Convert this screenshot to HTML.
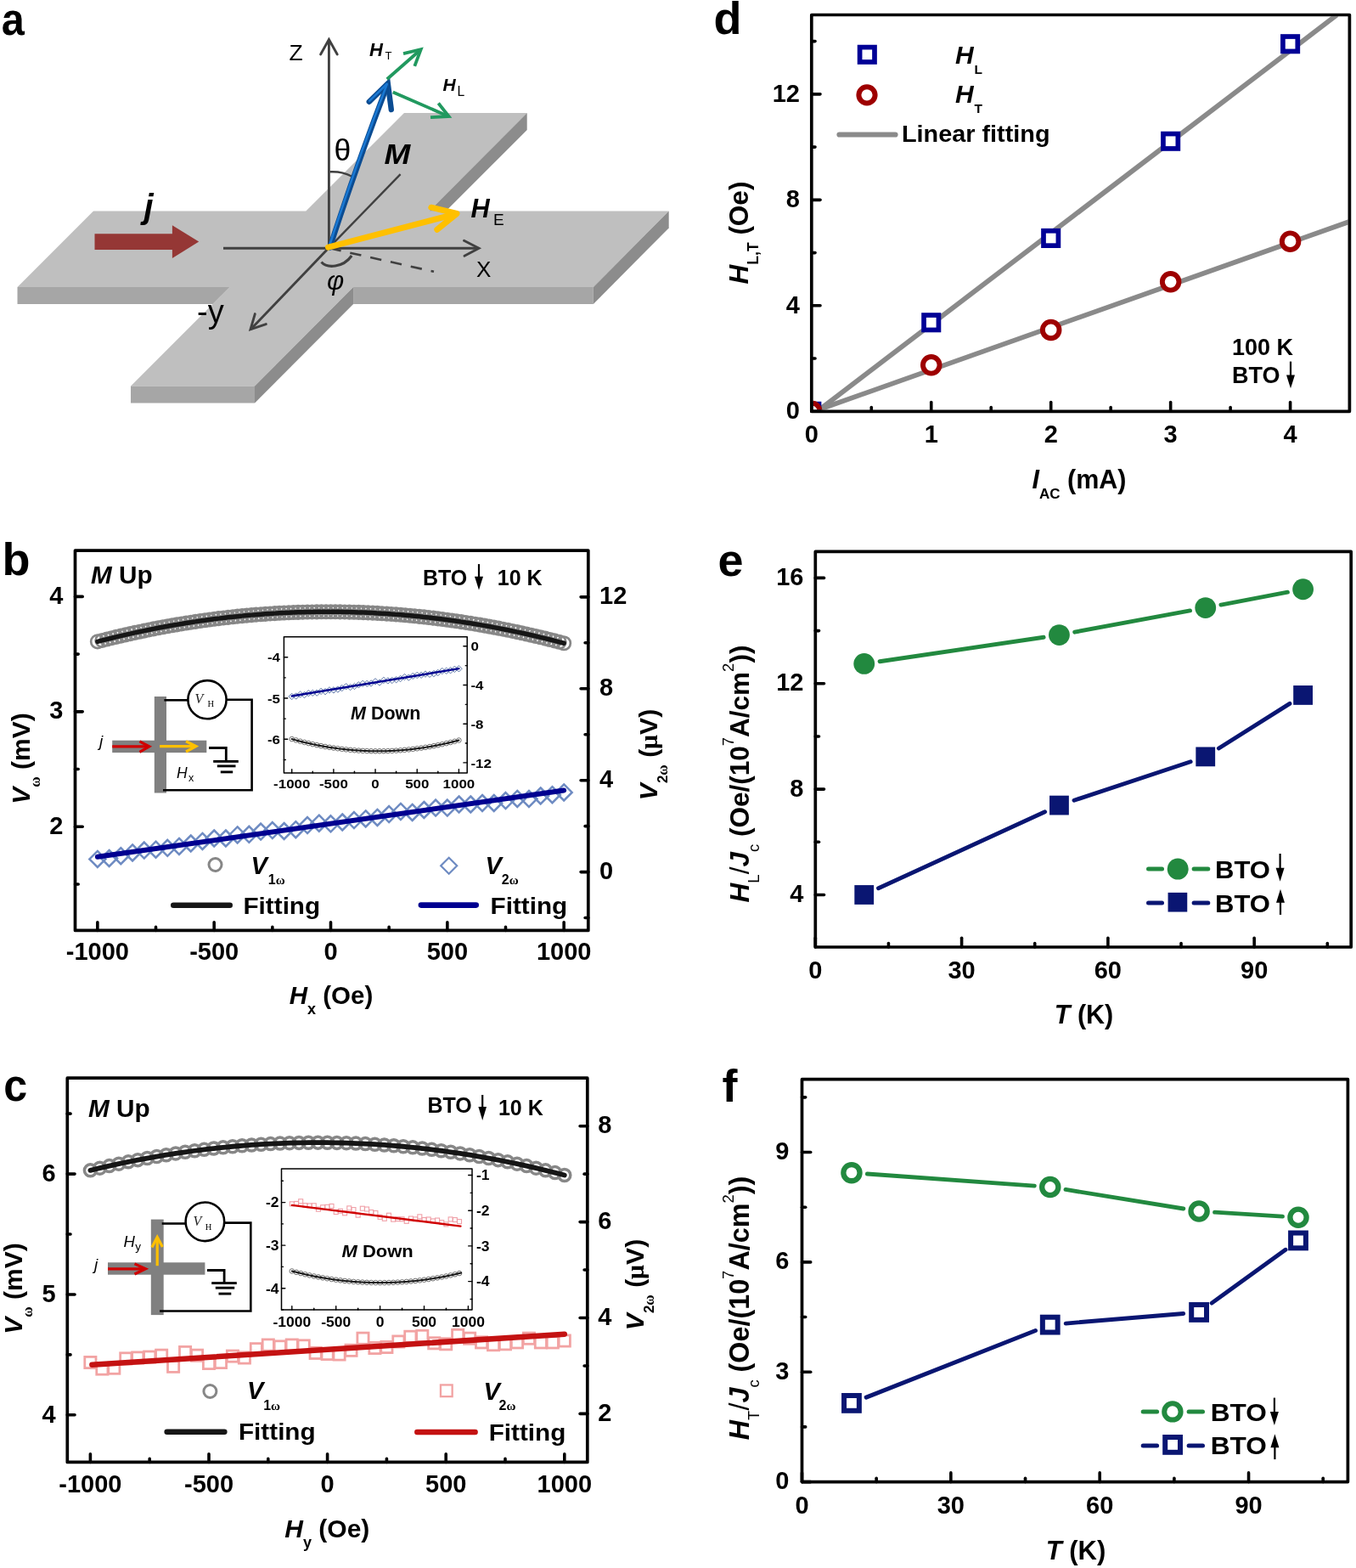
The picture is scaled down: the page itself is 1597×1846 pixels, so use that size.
<!DOCTYPE html>
<html><head><meta charset="utf-8"><title>Figure</title><style>html,body{margin:0;padding:0;background:#fff;}svg{display:block;}</style></head><body>
<svg width="1597" height="1846" viewBox="0 0 1597 1846" font-family="'Liberation Sans', Arial, sans-serif">
<rect width="1597" height="1846" fill="#fff"/>
<defs>
<clipPath id="clipd"><rect x="957.6" y="19.3" width="630" height="463.2"/></clipPath>
</defs>
<text transform="translate(1.8,40.5) scale(0.9,1)" font-size="54" font-weight="bold">a</text>
<polygon points="20.5,338 110,248.5 360.3,248.5 476,133 620.7,133 505.4,248.5 787.7,248.5 698.8,338 416.1,338 300,454.4 154,454.4 270.6,338" fill="#bfbfbf"/>
<polygon points="20.5,338 270.6,338 250.6,358 20.5,358" fill="#a6a6a6"/>
<polygon points="416.1,338 698.8,338 698.8,358 416.1,358" fill="#a6a6a6"/>
<polygon points="154,454.4 300,454.4 300,474.5 154,474.5" fill="#a6a6a6"/>
<polygon points="620.7,133 620.7,153 525.1,248.5 505.4,248.5" fill="#8c8c8c"/>
<polygon points="787.7,248.5 787.7,268.5 698.8,358 698.8,338" fill="#8c8c8c"/>
<polygon points="300,454.4 416.1,338 416.1,358 300,474.5" fill="#8c8c8c"/>
<polygon points="111.5,275.3 202.9,275.3 202.9,265.3 234.2,284.6 202.9,304.1 202.9,294.1 111.5,294.1" fill="#953735"/>
<line x1="387.4" y1="291.6" x2="387.4" y2="47" stroke="#404040" stroke-width="2.9"/>
<polyline points="377.6,64 387.4,46.5 397.2,64" fill="none" stroke="#404040" stroke-width="2.9" stroke-linejoin="miter" stroke-linecap="round"/>
<line x1="263" y1="292.3" x2="563.5" y2="292.3" stroke="#404040" stroke-width="2.9"/>
<polyline points="546.5,283.3 564,292.3 547,301.3" fill="none" stroke="#404040" stroke-width="2.9" stroke-linejoin="miter" stroke-linecap="round"/>
<line x1="387.5" y1="291.6" x2="295.5" y2="387.5" stroke="#404040" stroke-width="2.9"/>
<polyline points="300.3,369.6 295,387.8 313.3,381.6" fill="none" stroke="#404040" stroke-width="2.9" stroke-linejoin="miter" stroke-linecap="round"/>
<line x1="387.5" y1="291.6" x2="471.6" y2="205.2" stroke="#404040" stroke-width="2.4"/>
<line x1="388.5" y1="292.3" x2="511" y2="319.8" stroke="#404040" stroke-width="2.6" stroke-dasharray="13.4 11"/>
<path d="M 388.6 202.3 Q 403 201.5 414.5 207.8" fill="none" stroke="#404040" stroke-width="2.4"/>
<path d="M 378.5 308.5 C 385 316, 404 315.5, 414.2 301" fill="none" stroke="#404040" stroke-width="3.1"/>
<path d="M 388.5 291.5 Q 418 200 456.5 99.5" fill="none" stroke="#0b4c92" stroke-width="6.4" stroke-linecap="round"/>
<path d="M 434.8 119.8 L 456.8 98.3 L 460.8 129" fill="none" stroke="#0b4c92" stroke-width="6.4" stroke-linecap="round" stroke-linejoin="miter"/>
<path d="M 387.6 290.5 Q 417 199.5 455.6 99.5" fill="none" stroke="#1a78d2" stroke-width="2.6" stroke-linecap="round"/>
<path d="M 435.3 118.6 L 455.8 98.8" fill="none" stroke="#1a78d2" stroke-width="2.6" stroke-linecap="round"/>
<line x1="386.5" y1="291.1" x2="536" y2="252.2" stroke="#ffc000" stroke-width="7" stroke-linecap="round"/>
<polyline points="507.8,244.2 538,251.5 514.8,270.2" fill="none" stroke="#ffc000" stroke-width="7" stroke-linecap="round" stroke-linejoin="round"/>
<line x1="455.8" y1="93.3" x2="494.5" y2="59.2" stroke="#21995f" stroke-width="3.8"/>
<polyline points="475,63.2 495.7,58.2 488.3,77.8" fill="none" stroke="#21995f" stroke-width="3.8" stroke-linecap="butt" stroke-linejoin="miter"/>
<line x1="462.8" y1="108.6" x2="527" y2="136.4" stroke="#21995f" stroke-width="3.8"/>
<polyline points="516.3,121.5 528.6,137 507,138.2" fill="none" stroke="#21995f" stroke-width="3.8" stroke-linecap="butt" stroke-linejoin="miter"/>
<text x="340.5" y="71.3" font-size="26.5">Z</text>
<text x="561" y="325.8" font-size="26">X</text>
<text x="232" y="379.5" font-size="38">-y</text>
<text x="393.5" y="188.5" font-size="35.5">θ</text>
<text x="385" y="341" font-size="31" font-style="italic">φ</text>
<text transform="translate(452.5,192.5) scale(1.12,1)" font-size="33" font-weight="bold" font-style="italic">M</text>
<text x="554.5" y="256" font-size="30.7" font-weight="bold" font-style="italic">H</text>
<text x="581" y="264.7" font-size="19">E</text>
<text x="435" y="65.7" font-size="22" font-weight="bold" font-style="italic">H</text>
<text x="453.5" y="70.4" font-size="13">T</text>
<text x="521.5" y="107" font-size="21" font-weight="bold" font-style="italic">H</text>
<text x="538.5" y="112.7" font-size="15.7">L</text>
<text x="169.5" y="257" font-size="40" font-weight="bold" font-style="italic">j</text>
<text x="840.5" y="40.3" font-size="54" font-weight="bold">d</text>
<g clip-path="url(#clipd)">
<line x1="965.67" y1="481.81" x2="1574.57" y2="17.5" stroke="#8a8a8a" stroke-width="5.8"/>
<line x1="965.67" y1="481.81" x2="1592.89" y2="259.61" stroke="#8a8a8a" stroke-width="5.8"/>
<rect x="947.1" y="475.6" width="17.4" height="17.4" fill="#fff" stroke="#000096" stroke-width="5.7"/>
<rect x="1088.05" y="371.04" width="17.4" height="17.4" fill="#fff" stroke="#000096" stroke-width="5.7"/>
<rect x="1229" y="271.76" width="17.4" height="17.4" fill="#fff" stroke="#000096" stroke-width="5.7"/>
<rect x="1369.95" y="157.55" width="17.4" height="17.4" fill="#fff" stroke="#000096" stroke-width="5.7"/>
<rect x="1510.9" y="43.03" width="17.4" height="17.4" fill="#fff" stroke="#000096" stroke-width="5.7"/>
<circle cx="955.8" cy="484.3" r="9.8" fill="#fff" stroke="#9e0000" stroke-width="5.9"/>
<circle cx="1096.75" cy="429.84" r="9.8" fill="#fff" stroke="#9e0000" stroke-width="5.9"/>
<circle cx="1237.7" cy="388.45" r="9.8" fill="#fff" stroke="#9e0000" stroke-width="5.9"/>
<circle cx="1378.65" cy="331.81" r="9.8" fill="#fff" stroke="#9e0000" stroke-width="5.9"/>
<circle cx="1519.6" cy="284.2" r="9.8" fill="#fff" stroke="#9e0000" stroke-width="5.9"/>
</g>
<rect x="955.8" y="17.5" width="633.6" height="466.8" fill="none" stroke="#000" stroke-width="3.7" stroke-linejoin="round"/>
<line x1="955.8" y1="484.3" x2="955.8" y2="473.6" stroke="#000" stroke-width="3.6" stroke-linecap="round"/>
<line x1="1096.75" y1="484.3" x2="1096.75" y2="473.6" stroke="#000" stroke-width="3.6" stroke-linecap="round"/>
<line x1="1237.7" y1="484.3" x2="1237.7" y2="473.6" stroke="#000" stroke-width="3.6" stroke-linecap="round"/>
<line x1="1378.65" y1="484.3" x2="1378.65" y2="473.6" stroke="#000" stroke-width="3.6" stroke-linecap="round"/>
<line x1="1519.6" y1="484.3" x2="1519.6" y2="473.6" stroke="#000" stroke-width="3.6" stroke-linecap="round"/>
<line x1="1026.27" y1="484.3" x2="1026.27" y2="479.6" stroke="#000" stroke-width="3.6" stroke-linecap="round"/>
<line x1="1167.22" y1="484.3" x2="1167.22" y2="479.6" stroke="#000" stroke-width="3.6" stroke-linecap="round"/>
<line x1="1308.17" y1="484.3" x2="1308.17" y2="479.6" stroke="#000" stroke-width="3.6" stroke-linecap="round"/>
<line x1="1449.12" y1="484.3" x2="1449.12" y2="479.6" stroke="#000" stroke-width="3.6" stroke-linecap="round"/>
<line x1="955.8" y1="484.3" x2="966" y2="484.3" stroke="#000" stroke-width="3.6" stroke-linecap="round"/>
<line x1="955.8" y1="359.82" x2="966" y2="359.82" stroke="#000" stroke-width="3.6" stroke-linecap="round"/>
<line x1="955.8" y1="235.34" x2="966" y2="235.34" stroke="#000" stroke-width="3.6" stroke-linecap="round"/>
<line x1="955.8" y1="110.86" x2="966" y2="110.86" stroke="#000" stroke-width="3.6" stroke-linecap="round"/>
<line x1="955.8" y1="422.06" x2="960" y2="422.06" stroke="#000" stroke-width="3.6" stroke-linecap="round"/>
<line x1="955.8" y1="297.58" x2="960" y2="297.58" stroke="#000" stroke-width="3.6" stroke-linecap="round"/>
<line x1="955.8" y1="173.1" x2="960" y2="173.1" stroke="#000" stroke-width="3.6" stroke-linecap="round"/>
<line x1="955.8" y1="48.62" x2="960" y2="48.62" stroke="#000" stroke-width="3.6" stroke-linecap="round"/>
<text x="955.8" y="520.9" font-size="29" font-weight="bold" text-anchor="middle">0</text>
<text x="1096.75" y="520.9" font-size="29" font-weight="bold" text-anchor="middle">1</text>
<text x="1237.7" y="520.9" font-size="29" font-weight="bold" text-anchor="middle">2</text>
<text x="1378.65" y="520.9" font-size="29" font-weight="bold" text-anchor="middle">3</text>
<text x="1519.6" y="520.9" font-size="29" font-weight="bold" text-anchor="middle">4</text>
<text x="942" y="493" font-size="29" font-weight="bold" text-anchor="end">0</text>
<text x="942" y="368.52" font-size="29" font-weight="bold" text-anchor="end">4</text>
<text x="942" y="244.04" font-size="29" font-weight="bold" text-anchor="end">8</text>
<text x="942" y="119.56" font-size="29" font-weight="bold" text-anchor="end">12</text>
<rect x="1012.6" y="55.6" width="17.4" height="17.4" fill="#fff" stroke="#000096" stroke-width="5.7"/>
<circle cx="1021" cy="111.8" r="9.6" fill="#fff" stroke="#9e0000" stroke-width="6"/>
<line x1="988.5" y1="158.5" x2="1054.5" y2="158.5" stroke="#8a8a8a" stroke-width="6.2" stroke-linecap="round"/>
<text x="1125" y="75.4" font-size="30" font-weight="bold" font-style="italic">H</text>
<text x="1147.5" y="86.7" font-size="15.5" font-weight="bold">L</text>
<text x="1125" y="121.4" font-size="30" font-weight="bold" font-style="italic">H</text>
<text x="1147.5" y="132.7" font-size="15.5" font-weight="bold">T</text>
<text transform="translate(1062,166.5) scale(1.03,1)" font-size="28" font-weight="bold">Linear fitting</text>
<text x="1451" y="418" font-size="27" font-weight="bold">100 K</text>
<text x="1451" y="451.1" font-size="27" font-weight="bold">BTO</text>
<line x1="1520" y1="425.6" x2="1520" y2="445" stroke="#000" stroke-width="2.2"/>
<polygon points="1515,441.5 1525,441.5 1520,457.3" fill="#000"/>
<text transform="translate(881,274) rotate(-90)" text-anchor="middle" font-size="31.5" font-weight="bold"><tspan font-style="italic">H</tspan><tspan font-size="17.5" dy="12">L,T</tspan><tspan dy="-12"> (Oe)</tspan></text>
<text x="1271" y="574.6" text-anchor="middle" font-size="30.5" font-weight="bold"><tspan font-style="italic">I</tspan><tspan font-size="17" dy="12">AC</tspan><tspan dy="-12"> (mA)</tspan></text>
<text x="2.5" y="676.5" font-size="54" font-weight="bold">b</text>
<g fill="none" stroke="#878787" stroke-width="2.7"><circle cx="114.85" cy="755.36" r="7.7"/><circle cx="120.34" cy="753.95" r="7.7"/><circle cx="125.84" cy="752.57" r="7.7"/><circle cx="131.33" cy="751.22" r="7.7"/><circle cx="136.82" cy="749.9" r="7.7"/><circle cx="142.31" cy="748.61" r="7.7"/><circle cx="147.81" cy="747.35" r="7.7"/><circle cx="153.3" cy="746.11" r="7.7"/><circle cx="158.79" cy="744.91" r="7.7"/><circle cx="164.29" cy="743.73" r="7.7"/><circle cx="169.78" cy="742.58" r="7.7"/><circle cx="175.27" cy="741.46" r="7.7"/><circle cx="180.77" cy="740.37" r="7.7"/><circle cx="186.26" cy="739.31" r="7.7"/><circle cx="191.75" cy="738.27" r="7.7"/><circle cx="197.25" cy="737.27" r="7.7"/><circle cx="202.74" cy="736.29" r="7.7"/><circle cx="208.23" cy="735.35" r="7.7"/><circle cx="213.72" cy="734.43" r="7.7"/><circle cx="219.22" cy="733.54" r="7.7"/><circle cx="224.71" cy="732.68" r="7.7"/><circle cx="230.2" cy="731.85" r="7.7"/><circle cx="235.7" cy="731.05" r="7.7"/><circle cx="241.19" cy="730.27" r="7.7"/><circle cx="246.68" cy="729.53" r="7.7"/><circle cx="252.18" cy="728.81" r="7.7"/><circle cx="257.67" cy="728.13" r="7.7"/><circle cx="263.16" cy="727.47" r="7.7"/><circle cx="268.65" cy="726.84" r="7.7"/><circle cx="274.15" cy="726.24" r="7.7"/><circle cx="279.64" cy="725.66" r="7.7"/><circle cx="285.13" cy="725.12" r="7.7"/><circle cx="290.63" cy="724.61" r="7.7"/><circle cx="296.12" cy="724.12" r="7.7"/><circle cx="301.61" cy="723.67" r="7.7"/><circle cx="307.11" cy="723.24" r="7.7"/><circle cx="312.6" cy="722.84" r="7.7"/><circle cx="318.09" cy="722.47" r="7.7"/><circle cx="323.58" cy="722.13" r="7.7"/><circle cx="329.08" cy="721.81" r="7.7"/><circle cx="334.57" cy="721.53" r="7.7"/><circle cx="340.06" cy="721.28" r="7.7"/><circle cx="345.56" cy="721.05" r="7.7"/><circle cx="351.05" cy="720.85" r="7.7"/><circle cx="356.54" cy="720.68" r="7.7"/><circle cx="362.04" cy="720.54" r="7.7"/><circle cx="367.53" cy="720.43" r="7.7"/><circle cx="373.02" cy="720.35" r="7.7"/><circle cx="378.51" cy="720.3" r="7.7"/><circle cx="384.01" cy="720.27" r="7.7"/><circle cx="389.5" cy="720.28" r="7.7"/><circle cx="394.99" cy="720.31" r="7.7"/><circle cx="400.49" cy="720.37" r="7.7"/><circle cx="405.98" cy="720.47" r="7.7"/><circle cx="411.47" cy="720.59" r="7.7"/><circle cx="416.96" cy="720.73" r="7.7"/><circle cx="422.46" cy="720.91" r="7.7"/><circle cx="427.95" cy="721.12" r="7.7"/><circle cx="433.44" cy="721.35" r="7.7"/><circle cx="438.94" cy="721.62" r="7.7"/><circle cx="444.43" cy="721.91" r="7.7"/><circle cx="449.92" cy="722.23" r="7.7"/><circle cx="455.42" cy="722.58" r="7.7"/><circle cx="460.91" cy="722.96" r="7.7"/><circle cx="466.4" cy="723.37" r="7.7"/><circle cx="471.89" cy="723.81" r="7.7"/><circle cx="477.39" cy="724.27" r="7.7"/><circle cx="482.88" cy="724.77" r="7.7"/><circle cx="488.37" cy="725.29" r="7.7"/><circle cx="493.87" cy="725.84" r="7.7"/><circle cx="499.36" cy="726.42" r="7.7"/><circle cx="504.85" cy="727.03" r="7.7"/><circle cx="510.35" cy="727.67" r="7.7"/><circle cx="515.84" cy="728.34" r="7.7"/><circle cx="521.33" cy="729.04" r="7.7"/><circle cx="526.83" cy="729.76" r="7.7"/><circle cx="532.32" cy="730.51" r="7.7"/><circle cx="537.81" cy="731.3" r="7.7"/><circle cx="543.3" cy="732.11" r="7.7"/><circle cx="548.8" cy="732.95" r="7.7"/><circle cx="554.29" cy="733.82" r="7.7"/><circle cx="559.78" cy="734.72" r="7.7"/><circle cx="565.28" cy="735.64" r="7.7"/><circle cx="570.77" cy="736.6" r="7.7"/><circle cx="576.26" cy="737.58" r="7.7"/><circle cx="581.75" cy="738.6" r="7.7"/><circle cx="587.25" cy="739.64" r="7.7"/><circle cx="592.74" cy="740.71" r="7.7"/><circle cx="598.23" cy="741.81" r="7.7"/><circle cx="603.73" cy="742.94" r="7.7"/><circle cx="609.22" cy="744.1" r="7.7"/><circle cx="614.71" cy="745.28" r="7.7"/><circle cx="620.21" cy="746.5" r="7.7"/><circle cx="625.7" cy="747.74" r="7.7"/><circle cx="631.19" cy="749.02" r="7.7"/><circle cx="636.68" cy="750.32" r="7.7"/><circle cx="642.18" cy="751.65" r="7.7"/><circle cx="647.67" cy="753.01" r="7.7"/><circle cx="653.16" cy="754.39" r="7.7"/><circle cx="658.66" cy="755.81" r="7.7"/><circle cx="664.15" cy="757.26" r="7.7"/></g>
<polyline points="114.85,755.36 120.34,753.95 125.84,752.57 131.33,751.22 136.82,749.9 142.31,748.61 147.81,747.35 153.3,746.11 158.79,744.91 164.29,743.73 169.78,742.58 175.27,741.46 180.77,740.37 186.26,739.31 191.75,738.27 197.25,737.27 202.74,736.29 208.23,735.35 213.72,734.43 219.22,733.54 224.71,732.68 230.2,731.85 235.7,731.05 241.19,730.27 246.68,729.53 252.18,728.81 257.67,728.13 263.16,727.47 268.65,726.84 274.15,726.24 279.64,725.66 285.13,725.12 290.63,724.61 296.12,724.12 301.61,723.67 307.11,723.24 312.6,722.84 318.09,722.47 323.58,722.13 329.08,721.81 334.57,721.53 340.06,721.28 345.56,721.05 351.05,720.85 356.54,720.68 362.04,720.54 367.53,720.43 373.02,720.35 378.51,720.3 384.01,720.27 389.5,720.28 394.99,720.31 400.49,720.37 405.98,720.47 411.47,720.59 416.96,720.73 422.46,720.91 427.95,721.12 433.44,721.35 438.94,721.62 444.43,721.91 449.92,722.23 455.42,722.58 460.91,722.96 466.4,723.37 471.89,723.81 477.39,724.27 482.88,724.77 488.37,725.29 493.87,725.84 499.36,726.42 504.85,727.03 510.35,727.67 515.84,728.34 521.33,729.04 526.83,729.76 532.32,730.51 537.81,731.3 543.3,732.11 548.8,732.95 554.29,733.82 559.78,734.72 565.28,735.64 570.77,736.6 576.26,737.58 581.75,738.6 587.25,739.64 592.74,740.71 598.23,741.81 603.73,742.94 609.22,744.1 614.71,745.28 620.21,746.5 625.7,747.74 631.19,749.02 636.68,750.32 642.18,751.65 647.67,753.01 653.16,754.39 658.66,755.81 664.15,757.26" fill="none" stroke="#161616" stroke-width="5.5" stroke-linecap="round" stroke-linejoin="round"/>
<g fill="none" stroke="#6e8bc2" stroke-width="2.5"><path d="M114.85 1001.9L124.35 1011.4L114.85 1020.9L105.35 1011.4Z"/><path d="M128.58 1001L138.08 1010.5L128.58 1020L119.08 1010.5Z"/><path d="M142.31 998.2L151.81 1007.7L142.31 1017.2L132.81 1007.7Z"/><path d="M156.05 994.4L165.55 1003.9L156.05 1013.4L146.55 1003.9Z"/><path d="M169.78 991.6L179.28 1001.1L169.78 1010.6L160.28 1001.1Z"/><path d="M183.51 990.7L193.01 1000.2L183.51 1009.7L174.01 1000.2Z"/><path d="M197.25 988.8L206.75 998.3L197.25 1007.8L187.75 998.3Z"/><path d="M210.98 986.9L220.48 996.4L210.98 1005.9L201.48 996.4Z"/><path d="M224.71 983.5L234.21 993L224.71 1002.5L215.21 993Z"/><path d="M238.44 980.9L247.94 990.4L238.44 999.9L228.94 990.4Z"/><path d="M252.18 977.5L261.68 987L252.18 996.5L242.68 987Z"/><path d="M265.91 977.5L275.41 987L265.91 996.5L256.41 987Z"/><path d="M279.64 973.4L289.14 982.9L279.64 992.4L270.14 982.9Z"/><path d="M293.37 972.8L302.87 982.3L293.37 991.8L283.87 982.3Z"/><path d="M307.11 969.6L316.61 979.1L307.11 988.6L297.61 979.1Z"/><path d="M320.84 968.1L330.34 977.6L320.84 987.1L311.34 977.6Z"/><path d="M334.57 969L344.07 978.5L334.57 988L325.07 978.5Z"/><path d="M348.3 967.2L357.8 976.7L348.3 986.2L338.8 976.7Z"/><path d="M362.04 962.1L371.54 971.6L362.04 981.1L352.54 971.6Z"/><path d="M375.77 959.7L385.27 969.2L375.77 978.7L366.27 969.2Z"/><path d="M389.5 960.3L399 969.8L389.5 979.3L380 969.8Z"/><path d="M403.23 958.5L412.73 968L403.23 977.5L393.73 968Z"/><path d="M416.96 956.1L426.46 965.6L416.96 975.1L407.46 965.6Z"/><path d="M430.7 954.4L440.2 963.9L430.7 973.4L421.2 963.9Z"/><path d="M444.43 952.9L453.93 962.4L444.43 971.9L434.93 962.4Z"/><path d="M458.16 949.1L467.66 958.6L458.16 968.1L448.66 958.6Z"/><path d="M471.89 945.9L481.39 955.4L471.89 964.9L462.39 955.4Z"/><path d="M485.63 946.9L495.13 956.4L485.63 965.9L476.13 956.4Z"/><path d="M499.36 944L508.86 953.5L499.36 963L489.86 953.5Z"/><path d="M513.09 941.6L522.59 951.1L513.09 960.6L503.59 951.1Z"/><path d="M526.83 941.6L536.33 951.1L526.83 960.6L517.33 951.1Z"/><path d="M540.56 937.5L550.06 947L540.56 956.5L531.06 947Z"/><path d="M554.29 937.5L563.79 947L554.29 956.5L544.79 947Z"/><path d="M568.02 936L577.52 945.5L568.02 955L558.52 945.5Z"/><path d="M581.75 936L591.25 945.5L581.75 955L572.25 945.5Z"/><path d="M595.49 933.1L604.99 942.6L595.49 952.1L585.99 942.6Z"/><path d="M609.22 930.9L618.72 940.4L609.22 949.9L599.72 940.4Z"/><path d="M622.95 930.9L632.45 940.4L622.95 949.9L613.45 940.4Z"/><path d="M636.68 927.5L646.18 937L636.68 946.5L627.18 937Z"/><path d="M650.42 926.2L659.92 935.7L650.42 945.2L640.92 935.7Z"/><path d="M664.15 923.4L673.65 932.9L664.15 942.4L654.65 932.9Z"/></g>
<line x1="114.85" y1="1008.79" x2="664.15" y2="930.55" stroke="#000090" stroke-width="6" stroke-linecap="round"/>
<rect x="88.5" y="648.1" width="604.3" height="447.3" fill="none" stroke="#000" stroke-width="3.7" stroke-linejoin="round"/>
<line x1="114.85" y1="1095.4" x2="114.85" y2="1085.7" stroke="#000" stroke-width="3.6" stroke-linecap="round"/>
<line x1="252.18" y1="1095.4" x2="252.18" y2="1085.7" stroke="#000" stroke-width="3.6" stroke-linecap="round"/>
<line x1="389.5" y1="1095.4" x2="389.5" y2="1085.7" stroke="#000" stroke-width="3.6" stroke-linecap="round"/>
<line x1="526.83" y1="1095.4" x2="526.83" y2="1085.7" stroke="#000" stroke-width="3.6" stroke-linecap="round"/>
<line x1="664.15" y1="1095.4" x2="664.15" y2="1085.7" stroke="#000" stroke-width="3.6" stroke-linecap="round"/>
<line x1="183.51" y1="1095.4" x2="183.51" y2="1091.4" stroke="#000" stroke-width="3.6" stroke-linecap="round"/>
<line x1="320.84" y1="1095.4" x2="320.84" y2="1091.4" stroke="#000" stroke-width="3.6" stroke-linecap="round"/>
<line x1="458.16" y1="1095.4" x2="458.16" y2="1091.4" stroke="#000" stroke-width="3.6" stroke-linecap="round"/>
<line x1="595.49" y1="1095.4" x2="595.49" y2="1091.4" stroke="#000" stroke-width="3.6" stroke-linecap="round"/>
<line x1="88.5" y1="973.3" x2="97.2" y2="973.3" stroke="#000" stroke-width="3.6" stroke-linecap="round"/>
<line x1="88.5" y1="837.85" x2="97.2" y2="837.85" stroke="#000" stroke-width="3.6" stroke-linecap="round"/>
<line x1="88.5" y1="702.4" x2="97.2" y2="702.4" stroke="#000" stroke-width="3.6" stroke-linecap="round"/>
<line x1="88.5" y1="1041.03" x2="92.2" y2="1041.03" stroke="#000" stroke-width="3.6" stroke-linecap="round"/>
<line x1="88.5" y1="905.57" x2="92.2" y2="905.57" stroke="#000" stroke-width="3.6" stroke-linecap="round"/>
<line x1="88.5" y1="770.12" x2="92.2" y2="770.12" stroke="#000" stroke-width="3.6" stroke-linecap="round"/>
<line x1="692.8" y1="1026.6" x2="684.1" y2="1026.6" stroke="#000" stroke-width="3.6" stroke-linecap="round"/>
<line x1="692.8" y1="918.68" x2="684.1" y2="918.68" stroke="#000" stroke-width="3.6" stroke-linecap="round"/>
<line x1="692.8" y1="810.76" x2="684.1" y2="810.76" stroke="#000" stroke-width="3.6" stroke-linecap="round"/>
<line x1="692.8" y1="702.84" x2="684.1" y2="702.84" stroke="#000" stroke-width="3.6" stroke-linecap="round"/>
<line x1="692.8" y1="1080.56" x2="689.1" y2="1080.56" stroke="#000" stroke-width="3.6" stroke-linecap="round"/>
<line x1="692.8" y1="972.64" x2="689.1" y2="972.64" stroke="#000" stroke-width="3.6" stroke-linecap="round"/>
<line x1="692.8" y1="864.72" x2="689.1" y2="864.72" stroke="#000" stroke-width="3.6" stroke-linecap="round"/>
<line x1="692.8" y1="756.8" x2="689.1" y2="756.8" stroke="#000" stroke-width="3.6" stroke-linecap="round"/>
<text x="114.85" y="1130.1" font-size="29" font-weight="bold" text-anchor="middle">-1000</text>
<text x="252.18" y="1130.1" font-size="29" font-weight="bold" text-anchor="middle">-500</text>
<text x="389.5" y="1130.1" font-size="29" font-weight="bold" text-anchor="middle">0</text>
<text x="526.83" y="1130.1" font-size="29" font-weight="bold" text-anchor="middle">500</text>
<text x="664.15" y="1130.1" font-size="29" font-weight="bold" text-anchor="middle">1000</text>
<text x="74.5" y="981.8" font-size="29" font-weight="bold" text-anchor="end">2</text>
<text x="74.5" y="846.35" font-size="29" font-weight="bold" text-anchor="end">3</text>
<text x="74.5" y="710.9" font-size="29" font-weight="bold" text-anchor="end">4</text>
<text x="706" y="1035" font-size="29" font-weight="bold">0</text>
<text x="706" y="927.08" font-size="29" font-weight="bold">4</text>
<text x="706" y="819.16" font-size="29" font-weight="bold">8</text>
<text x="706" y="711.24" font-size="29" font-weight="bold">12</text>
<text x="107" y="687" font-size="29.7" font-weight="bold"><tspan font-style="italic">M</tspan> Up</text>
<text x="498" y="689.4" font-size="25" font-weight="bold">BTO</text>
<line x1="564" y1="664.1" x2="564" y2="681" stroke="#000" stroke-width="2.2"/>
<polygon points="559,678.7 569,678.7 564,694.5" fill="#000"/>
<text x="585.8" y="689.4" font-size="25" font-weight="bold">10 K</text>
<circle cx="253.5" cy="1018" r="7.5" fill="none" stroke="#878787" stroke-width="3"/>
<text x="295.5" y="1028.7" font-size="29" font-weight="bold" font-style="italic">V</text>
<text x="315.8" y="1040.9" font-size="16" font-weight="bold">1<tspan font-family="'Liberation Serif', 'Times New Roman', serif" font-size="15">ω</tspan></text>
<path d="M528.7 1009.7L538.2 1019.2L528.7 1028.7L519.2 1019.2Z" fill="none" stroke="#6e8bc2" stroke-width="2.2"/>
<text x="571.5" y="1028.7" font-size="29" font-weight="bold" font-style="italic">V</text>
<text x="590.8" y="1040.6" font-size="16" font-weight="bold">2<tspan font-family="'Liberation Serif', 'Times New Roman', serif" font-size="15">ω</tspan></text>
<line x1="204.3" y1="1065.7" x2="270.7" y2="1065.7" stroke="#161616" stroke-width="6.6" stroke-linecap="round"/>
<text transform="translate(286.5,1075.6) scale(1.06,1)" font-size="28" font-weight="bold">Fitting</text>
<line x1="495.9" y1="1065.6" x2="560.7" y2="1065.6" stroke="#000090" stroke-width="6.6" stroke-linecap="round"/>
<text transform="translate(577.6,1075.6) scale(1.06,1)" font-size="28" font-weight="bold">Fitting</text>
<text transform="translate(35,893) rotate(-90)" text-anchor="middle" font-size="30" font-weight="bold"><tspan font-style="italic">V</tspan><tspan font-family="'Liberation Serif', 'Times New Roman', serif" font-size="17" dy="12">ω</tspan><tspan dy="-12"> (mV)</tspan></text>
<text transform="translate(774,888.5) rotate(-90)" text-anchor="middle" font-size="30" font-weight="bold"><tspan font-style="italic">V</tspan><tspan font-size="17" dy="12">2<tspan font-family="'Liberation Serif', 'Times New Roman', serif">ω</tspan></tspan><tspan dy="-12"> (<tspan font-family="'Liberation Serif', 'Times New Roman', serif">μ</tspan>V)</tspan></text>
<text x="390" y="1181.6" text-anchor="middle" font-size="29.5" font-weight="bold"><tspan font-style="italic">H</tspan><tspan font-size="18" dy="12">x</tspan><tspan dy="-12"> (Oe)</tspan></text>
<rect x="334.4" y="749.8" width="215.8" height="160.3" fill="#fff"/>
<g fill="none" stroke="#707070" stroke-width="1"><circle cx="343.7" cy="870.06" r="2.8"/><circle cx="348.62" cy="871.41" r="2.8"/><circle cx="353.54" cy="872.7" r="2.8"/><circle cx="358.45" cy="873.92" r="2.8"/><circle cx="363.37" cy="875.07" r="2.8"/><circle cx="368.29" cy="876.16" r="2.8"/><circle cx="373.21" cy="877.17" r="2.8"/><circle cx="378.12" cy="878.12" r="2.8"/><circle cx="383.04" cy="879" r="2.8"/><circle cx="387.96" cy="879.82" r="2.8"/><circle cx="392.88" cy="880.56" r="2.8"/><circle cx="397.79" cy="881.24" r="2.8"/><circle cx="402.71" cy="881.85" r="2.8"/><circle cx="407.63" cy="882.4" r="2.8"/><circle cx="412.55" cy="882.87" r="2.8"/><circle cx="417.46" cy="883.28" r="2.8"/><circle cx="422.38" cy="883.62" r="2.8"/><circle cx="427.3" cy="883.89" r="2.8"/><circle cx="432.22" cy="884.1" r="2.8"/><circle cx="437.13" cy="884.24" r="2.8"/><circle cx="442.05" cy="884.31" r="2.8"/><circle cx="446.97" cy="884.31" r="2.8"/><circle cx="451.88" cy="884.24" r="2.8"/><circle cx="456.8" cy="884.11" r="2.8"/><circle cx="461.72" cy="883.91" r="2.8"/><circle cx="466.64" cy="883.64" r="2.8"/><circle cx="471.56" cy="883.31" r="2.8"/><circle cx="476.47" cy="882.9" r="2.8"/><circle cx="481.39" cy="882.43" r="2.8"/><circle cx="486.31" cy="881.89" r="2.8"/><circle cx="491.23" cy="881.29" r="2.8"/><circle cx="496.14" cy="880.61" r="2.8"/><circle cx="501.06" cy="879.87" r="2.8"/><circle cx="505.98" cy="879.06" r="2.8"/><circle cx="510.89" cy="878.19" r="2.8"/><circle cx="515.81" cy="877.24" r="2.8"/><circle cx="520.73" cy="876.23" r="2.8"/><circle cx="525.65" cy="875.15" r="2.8"/><circle cx="530.57" cy="874" r="2.8"/><circle cx="535.48" cy="872.79" r="2.8"/><circle cx="540.4" cy="871.51" r="2.8"/></g>
<polyline points="343.7,870.06 345.67,870.61 347.63,871.15 349.6,871.68 351.57,872.19 353.54,872.7 355.5,873.2 357.47,873.68 359.44,874.16 361.4,874.62 363.37,875.07 365.34,875.51 367.3,875.94 369.27,876.37 371.24,876.77 373.21,877.17 375.17,877.56 377.14,877.94 379.11,878.3 381.07,878.66 383.04,879 385.01,879.34 386.97,879.66 388.94,879.97 390.91,880.27 392.88,880.56 394.84,880.84 396.81,881.11 398.78,881.37 400.74,881.62 402.71,881.85 404.68,882.08 406.64,882.29 408.61,882.5 410.58,882.69 412.55,882.87 414.51,883.04 416.48,883.2 418.45,883.35 420.41,883.49 422.38,883.62 424.35,883.74 426.31,883.84 428.28,883.94 430.25,884.03 432.22,884.1 434.18,884.16 436.15,884.21 438.12,884.26 440.08,884.29 442.05,884.31 444.02,884.32 445.98,884.31 447.95,884.3 449.92,884.28 451.88,884.24 453.85,884.2 455.82,884.14 457.79,884.08 459.75,884 461.72,883.91 463.69,883.81 465.65,883.7 467.62,883.58 469.59,883.45 471.56,883.31 473.52,883.15 475.49,882.99 477.46,882.82 479.42,882.63 481.39,882.43 483.36,882.23 485.32,882.01 487.29,881.78 489.26,881.54 491.23,881.29 493.19,881.03 495.16,880.75 497.13,880.47 499.09,880.18 501.06,879.87 503.03,879.56 504.99,879.23 506.96,878.89 508.93,878.55 510.89,878.19 512.86,877.82 514.83,877.44 516.8,877.05 518.76,876.64 520.73,876.23 522.7,875.81 524.66,875.37 526.63,874.93 528.6,874.47 530.57,874 532.53,873.53 534.5,873.04 536.47,872.54 538.43,872.03 540.4,871.51" fill="none" stroke="#161616" stroke-width="2" stroke-linecap="round"/>
<g fill="none" stroke="#5d76a8" stroke-width="1"><path d="M343.7 816.23L347.4 819.93L343.7 823.63L340 819.93Z"/><path d="M348.62 815.81L352.32 819.51L348.62 823.21L344.92 819.51Z"/><path d="M353.54 813.86L357.24 817.56L353.54 821.26L349.84 817.56Z"/><path d="M358.45 814.38L362.15 818.08L358.45 821.78L354.75 818.08Z"/><path d="M363.37 812.51L367.07 816.21L363.37 819.91L359.67 816.21Z"/><path d="M368.29 812.09L371.99 815.79L368.29 819.49L364.59 815.79Z"/><path d="M373.21 811.98L376.91 815.68L373.21 819.38L369.51 815.68Z"/><path d="M378.12 810.15L381.82 813.85L378.12 817.55L374.42 813.85Z"/><path d="M383.04 810.41L386.74 814.11L383.04 817.81L379.34 814.11Z"/><path d="M387.96 808.7L391.66 812.4L387.96 816.1L384.26 812.4Z"/><path d="M392.88 808.72L396.57 812.42L392.88 816.12L389.18 812.42Z"/><path d="M397.79 807.87L401.49 811.57L397.79 815.27L394.09 811.57Z"/><path d="M402.71 806.3L406.41 810L402.71 813.7L399.01 810Z"/><path d="M407.63 804.57L411.33 808.27L407.63 811.97L403.93 808.27Z"/><path d="M412.55 805.37L416.25 809.07L412.55 812.77L408.85 809.07Z"/><path d="M417.46 804.33L421.16 808.03L417.46 811.73L413.76 808.03Z"/><path d="M422.38 802.6L426.08 806.3L422.38 810L418.68 806.3Z"/><path d="M427.3 801.06L431 804.76L427.3 808.46L423.6 804.76Z"/><path d="M432.22 801.1L435.92 804.8L432.22 808.5L428.52 804.8Z"/><path d="M437.13 800.7L440.83 804.4L437.13 808.1L433.43 804.4Z"/><path d="M442.05 798.57L445.75 802.27L442.05 805.97L438.35 802.27Z"/><path d="M446.97 799.89L450.67 803.59L446.97 807.29L443.27 803.59Z"/><path d="M451.88 797.22L455.58 800.92L451.88 804.62L448.19 800.92Z"/><path d="M456.8 797.71L460.5 801.41L456.8 805.11L453.1 801.41Z"/><path d="M461.72 797.24L465.42 800.94L461.72 804.64L458.02 800.94Z"/><path d="M466.64 796.49L470.34 800.19L466.64 803.89L462.94 800.19Z"/><path d="M471.56 795.25L475.25 798.95L471.56 802.65L467.86 798.95Z"/><path d="M476.47 793.28L480.17 796.98L476.47 800.68L472.77 796.98Z"/><path d="M481.39 793.92L485.09 797.62L481.39 801.32L477.69 797.62Z"/><path d="M486.31 792.2L490.01 795.9L486.31 799.6L482.61 795.9Z"/><path d="M491.23 791.26L494.93 794.96L491.23 798.66L487.53 794.96Z"/><path d="M496.14 791.06L499.84 794.76L496.14 798.46L492.44 794.76Z"/><path d="M501.06 789.85L504.76 793.55L501.06 797.25L497.36 793.55Z"/><path d="M505.98 790.15L509.68 793.85L505.98 797.55L502.28 793.85Z"/><path d="M510.89 789.35L514.6 793.05L510.89 796.75L507.19 793.05Z"/><path d="M515.81 788.21L519.51 791.91L515.81 795.61L512.11 791.91Z"/><path d="M520.73 786.31L524.43 790.01L520.73 793.71L517.03 790.01Z"/><path d="M525.65 786.08L529.35 789.78L525.65 793.48L521.95 789.78Z"/><path d="M530.57 785.53L534.27 789.23L530.57 792.93L526.87 789.23Z"/><path d="M535.48 784.1L539.18 787.8L535.48 791.5L531.78 787.8Z"/><path d="M540.4 783.6L544.1 787.3L540.4 791L536.7 787.3Z"/></g>
<line x1="343.7" y1="819.52" x2="540.4" y2="787.19" stroke="#000090" stroke-width="2.4" stroke-linecap="round"/>
<rect x="334.4" y="749.8" width="215.8" height="160.3" fill="none" stroke="#000" stroke-width="1.5" stroke-linejoin="round"/>
<line x1="343.7" y1="910.1" x2="343.7" y2="905.8" stroke="#000" stroke-width="1.4" stroke-linecap="round"/>
<line x1="392.88" y1="910.1" x2="392.88" y2="905.8" stroke="#000" stroke-width="1.4" stroke-linecap="round"/>
<line x1="442.05" y1="910.1" x2="442.05" y2="905.8" stroke="#000" stroke-width="1.4" stroke-linecap="round"/>
<line x1="491.23" y1="910.1" x2="491.23" y2="905.8" stroke="#000" stroke-width="1.4" stroke-linecap="round"/>
<line x1="540.4" y1="910.1" x2="540.4" y2="905.8" stroke="#000" stroke-width="1.4" stroke-linecap="round"/>
<line x1="368.29" y1="910.1" x2="368.29" y2="908.2" stroke="#000" stroke-width="1.4" stroke-linecap="round"/>
<line x1="417.46" y1="910.1" x2="417.46" y2="908.2" stroke="#000" stroke-width="1.4" stroke-linecap="round"/>
<line x1="466.64" y1="910.1" x2="466.64" y2="908.2" stroke="#000" stroke-width="1.4" stroke-linecap="round"/>
<line x1="515.81" y1="910.1" x2="515.81" y2="908.2" stroke="#000" stroke-width="1.4" stroke-linecap="round"/>
<line x1="334.4" y1="773.7" x2="338.7" y2="773.7" stroke="#000" stroke-width="1.4" stroke-linecap="round"/>
<line x1="334.4" y1="822" x2="338.7" y2="822" stroke="#000" stroke-width="1.4" stroke-linecap="round"/>
<line x1="334.4" y1="870.3" x2="338.7" y2="870.3" stroke="#000" stroke-width="1.4" stroke-linecap="round"/>
<line x1="334.4" y1="797.85" x2="336.3" y2="797.85" stroke="#000" stroke-width="1.4" stroke-linecap="round"/>
<line x1="334.4" y1="846.15" x2="336.3" y2="846.15" stroke="#000" stroke-width="1.4" stroke-linecap="round"/>
<line x1="334.4" y1="894.45" x2="336.3" y2="894.45" stroke="#000" stroke-width="1.4" stroke-linecap="round"/>
<line x1="550.2" y1="760.8" x2="545.9" y2="760.8" stroke="#000" stroke-width="1.4" stroke-linecap="round"/>
<line x1="550.2" y1="806.5" x2="545.9" y2="806.5" stroke="#000" stroke-width="1.4" stroke-linecap="round"/>
<line x1="550.2" y1="852.2" x2="545.9" y2="852.2" stroke="#000" stroke-width="1.4" stroke-linecap="round"/>
<line x1="550.2" y1="897.9" x2="545.9" y2="897.9" stroke="#000" stroke-width="1.4" stroke-linecap="round"/>
<line x1="550.2" y1="783.65" x2="548.3" y2="783.65" stroke="#000" stroke-width="1.4" stroke-linecap="round"/>
<line x1="550.2" y1="829.35" x2="548.3" y2="829.35" stroke="#000" stroke-width="1.4" stroke-linecap="round"/>
<line x1="550.2" y1="875.05" x2="548.3" y2="875.05" stroke="#000" stroke-width="1.4" stroke-linecap="round"/>
<text transform="translate(343.7,928) scale(1.15,1)" font-size="14.7" font-weight="bold" text-anchor="middle">-1000</text>
<text transform="translate(392.88,928) scale(1.15,1)" font-size="14.7" font-weight="bold" text-anchor="middle">-500</text>
<text transform="translate(442.05,928) scale(1.15,1)" font-size="14.7" font-weight="bold" text-anchor="middle">0</text>
<text transform="translate(491.23,928) scale(1.15,1)" font-size="14.7" font-weight="bold" text-anchor="middle">500</text>
<text transform="translate(540.4,928) scale(1.15,1)" font-size="14.7" font-weight="bold" text-anchor="middle">1000</text>
<text transform="translate(330,779.3) scale(1.15,1)" font-size="14.7" font-weight="bold" text-anchor="end">-4</text>
<text transform="translate(330,827.6) scale(1.15,1)" font-size="14.7" font-weight="bold" text-anchor="end">-5</text>
<text transform="translate(330,875.9) scale(1.15,1)" font-size="14.7" font-weight="bold" text-anchor="end">-6</text>
<text transform="translate(554.5,766.4) scale(1.15,1)" font-size="14.7" font-weight="bold">0</text>
<text transform="translate(554.5,812.1) scale(1.15,1)" font-size="14.7" font-weight="bold">-4</text>
<text transform="translate(554.5,857.8) scale(1.15,1)" font-size="14.7" font-weight="bold">-8</text>
<text transform="translate(554.5,903.5) scale(1.15,1)" font-size="14.7" font-weight="bold">-12</text>
<text x="413" y="846.6" font-size="21.5" font-weight="bold"><tspan font-style="italic">M</tspan> Down</text>
<rect x="181.8" y="820" width="14.2" height="113.5" fill="#808080"/>
<rect x="132.2" y="871.7" width="111.1" height="14.4" fill="#808080"/>
<line x1="132.2" y1="878.9" x2="174.5" y2="878.9" stroke="#d00000" stroke-width="3.2"/>
<polyline points="164.4,872.8 175.8,878.9 164.4,885.3" fill="none" stroke="#d00000" stroke-width="3.2"/>
<line x1="188.1" y1="878.6" x2="229.5" y2="878.6" stroke="#ffc000" stroke-width="3.2"/>
<polyline points="219,872.8 230.8,878.6 219,885" fill="none" stroke="#ffc000" stroke-width="3.2"/>
<circle cx="244" cy="823.7" r="22.6" fill="#fff" stroke="#000" stroke-width="2.6"/>
<line x1="193.4" y1="824.3" x2="221.4" y2="824.3" stroke="#000" stroke-width="2.6"/>
<polyline points="266.6,823.7 296.6,823.7 296.6,930.2 192,930.2" fill="none" stroke="#000" stroke-width="2.6"/>
<polyline points="246,880.5 266.3,880.5 266.3,896.4" fill="none" stroke="#000" stroke-width="2.8"/>
<line x1="251.2" y1="896.4" x2="280.8" y2="896.4" stroke="#000" stroke-width="2.9"/>
<line x1="255.8" y1="901.9" x2="277.5" y2="901.9" stroke="#000" stroke-width="2.9"/>
<line x1="259.8" y1="908.9" x2="274.2" y2="908.9" stroke="#000" stroke-width="2.9"/>
<text x="229.5" y="828.3" font-size="16" font-style="italic" font-family="'Liberation Serif', 'Times New Roman', serif" fill="#222">V</text>
<text x="244.4" y="832.2" font-size="10.5" font-family="'Liberation Serif', 'Times New Roman', serif">H</text>
<text x="117" y="879" font-size="19" font-style="italic">j</text>
<text x="208" y="915.7" font-size="17.5" font-style="italic">H</text>
<text x="222" y="920.3" font-size="12.5">x</text>
<text transform="translate(4.2,1295.5) scale(0.93,1)" font-size="54" font-weight="bold">c</text>
<g fill="none" stroke="#878787" stroke-width="3.5"><circle cx="106.4" cy="1377.84" r="7"/><circle cx="117.57" cy="1375.18" r="7"/><circle cx="128.74" cy="1372.62" r="7"/><circle cx="139.9" cy="1370.18" r="7"/><circle cx="151.07" cy="1367.86" r="7"/><circle cx="162.24" cy="1365.65" r="7"/><circle cx="173.41" cy="1363.55" r="7"/><circle cx="184.58" cy="1361.56" r="7"/><circle cx="195.74" cy="1359.69" r="7"/><circle cx="206.91" cy="1357.93" r="7"/><circle cx="218.08" cy="1356.28" r="7"/><circle cx="229.25" cy="1354.75" r="7"/><circle cx="240.42" cy="1353.33" r="7"/><circle cx="251.58" cy="1352.03" r="7"/><circle cx="262.75" cy="1350.84" r="7"/><circle cx="273.92" cy="1349.76" r="7"/><circle cx="285.09" cy="1348.79" r="7"/><circle cx="296.26" cy="1347.94" r="7"/><circle cx="307.42" cy="1347.2" r="7"/><circle cx="318.59" cy="1346.58" r="7"/><circle cx="329.76" cy="1346.07" r="7"/><circle cx="340.93" cy="1345.67" r="7"/><circle cx="352.1" cy="1345.39" r="7"/><circle cx="363.26" cy="1345.22" r="7"/><circle cx="374.43" cy="1345.16" r="7"/><circle cx="385.6" cy="1345.22" r="7"/><circle cx="396.77" cy="1345.39" r="7"/><circle cx="407.94" cy="1345.67" r="7"/><circle cx="419.1" cy="1346.07" r="7"/><circle cx="430.27" cy="1346.58" r="7"/><circle cx="441.44" cy="1347.2" r="7"/><circle cx="452.61" cy="1347.94" r="7"/><circle cx="463.78" cy="1348.79" r="7"/><circle cx="474.94" cy="1349.76" r="7"/><circle cx="486.11" cy="1350.84" r="7"/><circle cx="497.28" cy="1352.03" r="7"/><circle cx="508.45" cy="1353.33" r="7"/><circle cx="519.62" cy="1354.75" r="7"/><circle cx="530.78" cy="1356.28" r="7"/><circle cx="541.95" cy="1357.93" r="7"/><circle cx="553.12" cy="1359.69" r="7"/><circle cx="564.29" cy="1361.56" r="7"/><circle cx="575.46" cy="1363.55" r="7"/><circle cx="586.62" cy="1365.65" r="7"/><circle cx="597.79" cy="1367.86" r="7"/><circle cx="608.96" cy="1370.18" r="7"/><circle cx="620.13" cy="1372.62" r="7"/><circle cx="631.3" cy="1375.18" r="7"/><circle cx="642.46" cy="1377.84" r="7"/><circle cx="653.63" cy="1380.62" r="7"/><circle cx="664.8" cy="1383.52" r="7"/></g>
<polyline points="106.4,1377.84 111.98,1376.5 117.57,1375.18 123.15,1373.89 128.74,1372.62 134.32,1371.39 139.9,1370.18 145.49,1369.01 151.07,1367.86 156.66,1366.74 162.24,1365.65 167.82,1364.58 173.41,1363.55 178.99,1362.54 184.58,1361.56 190.16,1360.61 195.74,1359.69 201.33,1358.79 206.91,1357.93 212.5,1357.09 218.08,1356.28 223.66,1355.5 229.25,1354.75 234.83,1354.03 240.42,1353.33 246,1352.67 251.58,1352.03 257.17,1351.42 262.75,1350.84 268.34,1350.28 273.92,1349.76 279.5,1349.26 285.09,1348.79 290.67,1348.35 296.26,1347.94 301.84,1347.56 307.42,1347.2 313.01,1346.88 318.59,1346.58 324.18,1346.31 329.76,1346.07 335.34,1345.86 340.93,1345.67 346.51,1345.52 352.1,1345.39 357.68,1345.29 363.26,1345.22 368.85,1345.18 374.43,1345.16 380.02,1345.18 385.6,1345.22 391.18,1345.29 396.77,1345.39 402.35,1345.52 407.94,1345.67 413.52,1345.86 419.1,1346.07 424.69,1346.31 430.27,1346.58 435.86,1346.88 441.44,1347.2 447.02,1347.56 452.61,1347.94 458.19,1348.35 463.78,1348.79 469.36,1349.26 474.94,1349.76 480.53,1350.28 486.11,1350.84 491.7,1351.42 497.28,1352.03 502.86,1352.67 508.45,1353.33 514.03,1354.03 519.62,1354.75 525.2,1355.5 530.78,1356.28 536.37,1357.09 541.95,1357.93 547.54,1358.79 553.12,1359.69 558.7,1360.61 564.29,1361.56 569.87,1362.54 575.46,1363.55 581.04,1364.58 586.62,1365.65 592.21,1366.74 597.79,1367.86 603.38,1369.01 608.96,1370.18 614.54,1371.39 620.13,1372.62 625.71,1373.89 631.3,1375.18 636.88,1376.5 642.46,1377.84 648.05,1379.22 653.63,1380.62 659.22,1382.06 664.8,1383.52" fill="none" stroke="#161616" stroke-width="5.8" stroke-linecap="round" stroke-linejoin="round"/>
<g fill="none" stroke="#f2a3a3" stroke-width="2.8"><rect x="99.8" y="1597.4" width="13.2" height="13.2"/><rect x="113.76" y="1605" width="13.2" height="13.2"/><rect x="127.72" y="1604.1" width="13.2" height="13.2"/><rect x="141.68" y="1592.8" width="13.2" height="13.2"/><rect x="155.64" y="1591.9" width="13.2" height="13.2"/><rect x="169.6" y="1591" width="13.2" height="13.2"/><rect x="183.56" y="1589.1" width="13.2" height="13.2"/><rect x="197.52" y="1602.2" width="13.2" height="13.2"/><rect x="211.48" y="1585.4" width="13.2" height="13.2"/><rect x="225.44" y="1589.1" width="13.2" height="13.2"/><rect x="239.4" y="1598.4" width="13.2" height="13.2"/><rect x="253.36" y="1597.4" width="13.2" height="13.2"/><rect x="267.32" y="1590" width="13.2" height="13.2"/><rect x="281.28" y="1591.9" width="13.2" height="13.2"/><rect x="295.24" y="1581.6" width="13.2" height="13.2"/><rect x="309.2" y="1576.9" width="13.2" height="13.2"/><rect x="323.16" y="1578.8" width="13.2" height="13.2"/><rect x="337.12" y="1576.9" width="13.2" height="13.2"/><rect x="351.08" y="1577.8" width="13.2" height="13.2"/><rect x="365.04" y="1586.3" width="13.2" height="13.2"/><rect x="379" y="1587.4" width="13.2" height="13.2"/><rect x="392.96" y="1587.9" width="13.2" height="13.2"/><rect x="406.92" y="1583.2" width="13.2" height="13.2"/><rect x="420.88" y="1569.1" width="13.2" height="13.2"/><rect x="434.84" y="1580.4" width="13.2" height="13.2"/><rect x="448.8" y="1579.4" width="13.2" height="13.2"/><rect x="462.76" y="1572.9" width="13.2" height="13.2"/><rect x="476.72" y="1567.2" width="13.2" height="13.2"/><rect x="490.68" y="1566.3" width="13.2" height="13.2"/><rect x="504.64" y="1574.7" width="13.2" height="13.2"/><rect x="518.6" y="1575.7" width="13.2" height="13.2"/><rect x="532.56" y="1565.3" width="13.2" height="13.2"/><rect x="546.52" y="1569.1" width="13.2" height="13.2"/><rect x="560.48" y="1573.8" width="13.2" height="13.2"/><rect x="574.44" y="1576.6" width="13.2" height="13.2"/><rect x="588.4" y="1575.7" width="13.2" height="13.2"/><rect x="602.36" y="1573.8" width="13.2" height="13.2"/><rect x="616.32" y="1569.1" width="13.2" height="13.2"/><rect x="630.28" y="1573.8" width="13.2" height="13.2"/><rect x="644.24" y="1573.8" width="13.2" height="13.2"/><rect x="658.2" y="1571.9" width="13.2" height="13.2"/></g>
<line x1="108.4" y1="1606.82" x2="664.8" y2="1570.69" stroke="#c41212" stroke-width="6.5" stroke-linecap="round"/>
<rect x="79.3" y="1269.2" width="612.5" height="452.2" fill="none" stroke="#000" stroke-width="3.7" stroke-linejoin="round"/>
<line x1="106.4" y1="1721.4" x2="106.4" y2="1711.7" stroke="#000" stroke-width="3.6" stroke-linecap="round"/>
<line x1="246" y1="1721.4" x2="246" y2="1711.7" stroke="#000" stroke-width="3.6" stroke-linecap="round"/>
<line x1="385.6" y1="1721.4" x2="385.6" y2="1711.7" stroke="#000" stroke-width="3.6" stroke-linecap="round"/>
<line x1="525.2" y1="1721.4" x2="525.2" y2="1711.7" stroke="#000" stroke-width="3.6" stroke-linecap="round"/>
<line x1="664.8" y1="1721.4" x2="664.8" y2="1711.7" stroke="#000" stroke-width="3.6" stroke-linecap="round"/>
<line x1="176.2" y1="1721.4" x2="176.2" y2="1717.4" stroke="#000" stroke-width="3.6" stroke-linecap="round"/>
<line x1="315.8" y1="1721.4" x2="315.8" y2="1717.4" stroke="#000" stroke-width="3.6" stroke-linecap="round"/>
<line x1="455.4" y1="1721.4" x2="455.4" y2="1717.4" stroke="#000" stroke-width="3.6" stroke-linecap="round"/>
<line x1="595" y1="1721.4" x2="595" y2="1717.4" stroke="#000" stroke-width="3.6" stroke-linecap="round"/>
<line x1="79.3" y1="1665.8" x2="88" y2="1665.8" stroke="#000" stroke-width="3.6" stroke-linecap="round"/>
<line x1="79.3" y1="1523.95" x2="88" y2="1523.95" stroke="#000" stroke-width="3.6" stroke-linecap="round"/>
<line x1="79.3" y1="1382.1" x2="88" y2="1382.1" stroke="#000" stroke-width="3.6" stroke-linecap="round"/>
<line x1="79.3" y1="1594.88" x2="83" y2="1594.88" stroke="#000" stroke-width="3.6" stroke-linecap="round"/>
<line x1="79.3" y1="1453.02" x2="83" y2="1453.02" stroke="#000" stroke-width="3.6" stroke-linecap="round"/>
<line x1="79.3" y1="1311.17" x2="83" y2="1311.17" stroke="#000" stroke-width="3.6" stroke-linecap="round"/>
<line x1="691.8" y1="1664.4" x2="683.1" y2="1664.4" stroke="#000" stroke-width="3.6" stroke-linecap="round"/>
<line x1="691.8" y1="1551.5" x2="683.1" y2="1551.5" stroke="#000" stroke-width="3.6" stroke-linecap="round"/>
<line x1="691.8" y1="1438.6" x2="683.1" y2="1438.6" stroke="#000" stroke-width="3.6" stroke-linecap="round"/>
<line x1="691.8" y1="1325.7" x2="683.1" y2="1325.7" stroke="#000" stroke-width="3.6" stroke-linecap="round"/>
<line x1="691.8" y1="1607.95" x2="688.1" y2="1607.95" stroke="#000" stroke-width="3.6" stroke-linecap="round"/>
<line x1="691.8" y1="1495.05" x2="688.1" y2="1495.05" stroke="#000" stroke-width="3.6" stroke-linecap="round"/>
<line x1="691.8" y1="1382.15" x2="688.1" y2="1382.15" stroke="#000" stroke-width="3.6" stroke-linecap="round"/>
<text x="106.4" y="1757.3" font-size="29" font-weight="bold" text-anchor="middle">-1000</text>
<text x="246" y="1757.3" font-size="29" font-weight="bold" text-anchor="middle">-500</text>
<text x="385.6" y="1757.3" font-size="29" font-weight="bold" text-anchor="middle">0</text>
<text x="525.2" y="1757.3" font-size="29" font-weight="bold" text-anchor="middle">500</text>
<text x="664.8" y="1757.3" font-size="29" font-weight="bold" text-anchor="middle">1000</text>
<text x="65.7" y="1675" font-size="29" font-weight="bold" text-anchor="end">4</text>
<text x="65.7" y="1533.15" font-size="29" font-weight="bold" text-anchor="end">5</text>
<text x="65.7" y="1391.3" font-size="29" font-weight="bold" text-anchor="end">6</text>
<text x="704.3" y="1672.9" font-size="29" font-weight="bold">2</text>
<text x="704.3" y="1560" font-size="29" font-weight="bold">4</text>
<text x="704.3" y="1447.1" font-size="29" font-weight="bold">6</text>
<text x="704.3" y="1334.2" font-size="29" font-weight="bold">8</text>
<text x="104" y="1314.5" font-size="29.7" font-weight="bold"><tspan font-style="italic">M</tspan> Up</text>
<text x="503.5" y="1310.1" font-size="25" font-weight="bold">BTO</text>
<line x1="568.2" y1="1289" x2="568.2" y2="1305" stroke="#000" stroke-width="2.2"/>
<polygon points="563.4,1303 573,1303 568.2,1319.1" fill="#000"/>
<text x="586.9" y="1313.1" font-size="25" font-weight="bold">10 K</text>
<circle cx="247.4" cy="1638" r="7.5" fill="none" stroke="#878787" stroke-width="3"/>
<text x="291" y="1647.4" font-size="29" font-weight="bold" font-style="italic">V</text>
<text x="310.2" y="1659.6" font-size="16" font-weight="bold">1<tspan font-family="'Liberation Serif', 'Times New Roman', serif" font-size="15">ω</tspan></text>
<rect x="518.95" y="1630.45" width="13.7" height="13.7" fill="none" stroke="#f2a3a3" stroke-width="2.3"/>
<text x="569.5" y="1648" font-size="29" font-weight="bold" font-style="italic">V</text>
<text x="587.6" y="1659.7" font-size="16" font-weight="bold">2<tspan font-family="'Liberation Serif', 'Times New Roman', serif" font-size="15">ω</tspan></text>
<line x1="196.7" y1="1685.8" x2="264.3" y2="1685.8" stroke="#161616" stroke-width="6.6" stroke-linecap="round"/>
<text transform="translate(281,1695.3) scale(1.06,1)" font-size="28" font-weight="bold">Fitting</text>
<line x1="491.3" y1="1686" x2="559.6" y2="1686" stroke="#c41212" stroke-width="6.5" stroke-linecap="round"/>
<text transform="translate(575.7,1696) scale(1.06,1)" font-size="28" font-weight="bold">Fitting</text>
<text transform="translate(25.6,1517) rotate(-90)" text-anchor="middle" font-size="30" font-weight="bold"><tspan font-style="italic">V</tspan><tspan font-family="'Liberation Serif', 'Times New Roman', serif" font-size="17" dy="12">ω</tspan><tspan dy="-12"> (mV)</tspan></text>
<text transform="translate(757.7,1512.5) rotate(-90)" text-anchor="middle" font-size="30" font-weight="bold"><tspan font-style="italic">V</tspan><tspan font-size="17" dy="12">2<tspan font-family="'Liberation Serif', 'Times New Roman', serif">ω</tspan></tspan><tspan dy="-12"> (<tspan font-family="'Liberation Serif', 'Times New Roman', serif">μ</tspan>V)</tspan></text>
<text x="385.3" y="1809.9" text-anchor="middle" font-size="30" font-weight="bold"><tspan font-style="italic">H</tspan><tspan font-size="18" dy="12">y</tspan><tspan dy="-12"> (Oe)</tspan></text>
<rect x="331.5" y="1375.9" width="224.5" height="166.2" fill="#fff"/>
<g fill="none" stroke="#707070" stroke-width="1"><circle cx="343.8" cy="1496.48" r="2.8"/><circle cx="348.99" cy="1497.81" r="2.8"/><circle cx="354.18" cy="1499.07" r="2.8"/><circle cx="359.37" cy="1500.27" r="2.8"/><circle cx="364.56" cy="1501.39" r="2.8"/><circle cx="369.75" cy="1502.45" r="2.8"/><circle cx="374.94" cy="1503.44" r="2.8"/><circle cx="380.13" cy="1504.36" r="2.8"/><circle cx="385.32" cy="1505.22" r="2.8"/><circle cx="390.51" cy="1506" r="2.8"/><circle cx="395.7" cy="1506.72" r="2.8"/><circle cx="400.89" cy="1507.36" r="2.8"/><circle cx="406.08" cy="1507.94" r="2.8"/><circle cx="411.27" cy="1508.46" r="2.8"/><circle cx="416.46" cy="1508.9" r="2.8"/><circle cx="421.65" cy="1509.28" r="2.8"/><circle cx="426.84" cy="1509.58" r="2.8"/><circle cx="432.03" cy="1509.82" r="2.8"/><circle cx="437.22" cy="1509.99" r="2.8"/><circle cx="442.41" cy="1510.09" r="2.8"/><circle cx="447.6" cy="1510.13" r="2.8"/><circle cx="452.79" cy="1510.09" r="2.8"/><circle cx="457.98" cy="1509.99" r="2.8"/><circle cx="463.17" cy="1509.82" r="2.8"/><circle cx="468.36" cy="1509.58" r="2.8"/><circle cx="473.55" cy="1509.28" r="2.8"/><circle cx="478.74" cy="1508.9" r="2.8"/><circle cx="483.93" cy="1508.46" r="2.8"/><circle cx="489.12" cy="1507.94" r="2.8"/><circle cx="494.31" cy="1507.36" r="2.8"/><circle cx="499.5" cy="1506.72" r="2.8"/><circle cx="504.69" cy="1506" r="2.8"/><circle cx="509.88" cy="1505.22" r="2.8"/><circle cx="515.07" cy="1504.36" r="2.8"/><circle cx="520.26" cy="1503.44" r="2.8"/><circle cx="525.45" cy="1502.45" r="2.8"/><circle cx="530.64" cy="1501.39" r="2.8"/><circle cx="535.83" cy="1500.27" r="2.8"/><circle cx="541.02" cy="1499.07" r="2.8"/></g>
<polyline points="343.8,1496.48 345.88,1497.02 347.95,1497.55 350.03,1498.07 352.1,1498.58 354.18,1499.07 356.26,1499.56 358.33,1500.03 360.41,1500.5 362.48,1500.95 364.56,1501.39 366.64,1501.82 368.71,1502.25 370.79,1502.65 372.86,1503.05 374.94,1503.44 377.02,1503.82 379.09,1504.18 381.17,1504.54 383.24,1504.88 385.32,1505.22 387.4,1505.54 389.47,1505.85 391.55,1506.15 393.62,1506.44 395.7,1506.72 397.78,1506.98 399.85,1507.24 401.93,1507.49 404,1507.72 406.08,1507.94 408.16,1508.16 410.23,1508.36 412.31,1508.55 414.38,1508.73 416.46,1508.9 418.54,1509.06 420.61,1509.21 422.69,1509.34 424.76,1509.47 426.84,1509.58 428.92,1509.69 430.99,1509.78 433.07,1509.86 435.14,1509.93 437.22,1509.99 439.3,1510.04 441.37,1510.08 443.45,1510.11 445.52,1510.12 447.6,1510.13 449.68,1510.12 451.75,1510.11 453.83,1510.08 455.9,1510.04 457.98,1509.99 460.06,1509.93 462.13,1509.86 464.21,1509.78 466.28,1509.69 468.36,1509.58 470.44,1509.47 472.51,1509.34 474.59,1509.21 476.66,1509.06 478.74,1508.9 480.82,1508.73 482.89,1508.55 484.97,1508.36 487.04,1508.16 489.12,1507.94 491.2,1507.72 493.27,1507.49 495.35,1507.24 497.42,1506.98 499.5,1506.72 501.58,1506.44 503.65,1506.15 505.73,1505.85 507.8,1505.54 509.88,1505.22 511.96,1504.88 514.03,1504.54 516.11,1504.18 518.18,1503.82 520.26,1503.44 522.34,1503.05 524.41,1502.65 526.49,1502.25 528.56,1501.82 530.64,1501.39 532.72,1500.95 534.79,1500.5 536.87,1500.03 538.94,1499.56 541.02,1499.07 543.1,1498.58" fill="none" stroke="#161616" stroke-width="2" stroke-linecap="round"/>
<g fill="none" stroke="#f0a0a8" stroke-width="1.1"><rect x="341.3" y="1414.8" width="5" height="5"/><rect x="346.49" y="1414.45" width="5" height="5"/><rect x="351.68" y="1411.75" width="5" height="5"/><rect x="356.87" y="1416.6" width="5" height="5"/><rect x="362.06" y="1416.86" width="5" height="5"/><rect x="367.25" y="1416.77" width="5" height="5"/><rect x="372.44" y="1421.11" width="5" height="5"/><rect x="377.63" y="1418.75" width="5" height="5"/><rect x="382.82" y="1418.31" width="5" height="5"/><rect x="388.01" y="1417.45" width="5" height="5"/><rect x="393.2" y="1424.51" width="5" height="5"/><rect x="398.39" y="1423.23" width="5" height="5"/><rect x="403.58" y="1425.82" width="5" height="5"/><rect x="408.77" y="1419.87" width="5" height="5"/><rect x="413.96" y="1421.58" width="5" height="5"/><rect x="419.15" y="1428.2" width="5" height="5"/><rect x="424.34" y="1420.21" width="5" height="5"/><rect x="429.53" y="1421.01" width="5" height="5"/><rect x="434.72" y="1424.51" width="5" height="5"/><rect x="439.91" y="1425.5" width="5" height="5"/><rect x="445.1" y="1430.35" width="5" height="5"/><rect x="450.29" y="1432.3" width="5" height="5"/><rect x="455.48" y="1428.23" width="5" height="5"/><rect x="460.67" y="1433.17" width="5" height="5"/><rect x="465.86" y="1432.61" width="5" height="5"/><rect x="471.05" y="1432.78" width="5" height="5"/><rect x="476.24" y="1435.37" width="5" height="5"/><rect x="481.43" y="1432.03" width="5" height="5"/><rect x="486.62" y="1432.89" width="5" height="5"/><rect x="491.81" y="1429.84" width="5" height="5"/><rect x="497" y="1433.45" width="5" height="5"/><rect x="502.19" y="1432.98" width="5" height="5"/><rect x="507.38" y="1434.91" width="5" height="5"/><rect x="512.57" y="1434.06" width="5" height="5"/><rect x="517.76" y="1436.59" width="5" height="5"/><rect x="522.95" y="1438.87" width="5" height="5"/><rect x="528.14" y="1432.91" width="5" height="5"/><rect x="533.33" y="1433.57" width="5" height="5"/><rect x="538.52" y="1435.64" width="5" height="5"/></g>
<line x1="343.8" y1="1418.94" x2="542.47" y2="1443.53" stroke="#d00000" stroke-width="2.3" stroke-linecap="round"/>
<rect x="331.5" y="1375.9" width="224.5" height="166.2" fill="none" stroke="#000" stroke-width="1.5" stroke-linejoin="round"/>
<line x1="343.8" y1="1542.1" x2="343.8" y2="1537.8" stroke="#000" stroke-width="1.4" stroke-linecap="round"/>
<line x1="395.7" y1="1542.1" x2="395.7" y2="1537.8" stroke="#000" stroke-width="1.4" stroke-linecap="round"/>
<line x1="447.6" y1="1542.1" x2="447.6" y2="1537.8" stroke="#000" stroke-width="1.4" stroke-linecap="round"/>
<line x1="499.5" y1="1542.1" x2="499.5" y2="1537.8" stroke="#000" stroke-width="1.4" stroke-linecap="round"/>
<line x1="551.4" y1="1542.1" x2="551.4" y2="1537.8" stroke="#000" stroke-width="1.4" stroke-linecap="round"/>
<line x1="369.75" y1="1542.1" x2="369.75" y2="1540.2" stroke="#000" stroke-width="1.4" stroke-linecap="round"/>
<line x1="421.65" y1="1542.1" x2="421.65" y2="1540.2" stroke="#000" stroke-width="1.4" stroke-linecap="round"/>
<line x1="473.55" y1="1542.1" x2="473.55" y2="1540.2" stroke="#000" stroke-width="1.4" stroke-linecap="round"/>
<line x1="525.45" y1="1542.1" x2="525.45" y2="1540.2" stroke="#000" stroke-width="1.4" stroke-linecap="round"/>
<line x1="331.5" y1="1415.6" x2="335.8" y2="1415.6" stroke="#000" stroke-width="1.4" stroke-linecap="round"/>
<line x1="331.5" y1="1466.15" x2="335.8" y2="1466.15" stroke="#000" stroke-width="1.4" stroke-linecap="round"/>
<line x1="331.5" y1="1516.7" x2="335.8" y2="1516.7" stroke="#000" stroke-width="1.4" stroke-linecap="round"/>
<line x1="331.5" y1="1390.32" x2="333.4" y2="1390.32" stroke="#000" stroke-width="1.4" stroke-linecap="round"/>
<line x1="331.5" y1="1440.88" x2="333.4" y2="1440.88" stroke="#000" stroke-width="1.4" stroke-linecap="round"/>
<line x1="331.5" y1="1491.42" x2="333.4" y2="1491.42" stroke="#000" stroke-width="1.4" stroke-linecap="round"/>
<line x1="331.5" y1="1541.97" x2="333.4" y2="1541.97" stroke="#000" stroke-width="1.4" stroke-linecap="round"/>
<line x1="556" y1="1383.5" x2="551.7" y2="1383.5" stroke="#000" stroke-width="1.4" stroke-linecap="round"/>
<line x1="556" y1="1425.2" x2="551.7" y2="1425.2" stroke="#000" stroke-width="1.4" stroke-linecap="round"/>
<line x1="556" y1="1466.9" x2="551.7" y2="1466.9" stroke="#000" stroke-width="1.4" stroke-linecap="round"/>
<line x1="556" y1="1508.6" x2="551.7" y2="1508.6" stroke="#000" stroke-width="1.4" stroke-linecap="round"/>
<line x1="556" y1="1404.35" x2="554.1" y2="1404.35" stroke="#000" stroke-width="1.4" stroke-linecap="round"/>
<line x1="556" y1="1446.05" x2="554.1" y2="1446.05" stroke="#000" stroke-width="1.4" stroke-linecap="round"/>
<line x1="556" y1="1487.75" x2="554.1" y2="1487.75" stroke="#000" stroke-width="1.4" stroke-linecap="round"/>
<line x1="556" y1="1529.45" x2="554.1" y2="1529.45" stroke="#000" stroke-width="1.4" stroke-linecap="round"/>
<text transform="translate(343.8,1561.9) scale(1.06,1)" font-size="16.5" font-weight="bold" text-anchor="middle">-1000</text>
<text transform="translate(395.7,1561.9) scale(1.06,1)" font-size="16.5" font-weight="bold" text-anchor="middle">-500</text>
<text transform="translate(447.6,1561.9) scale(1.06,1)" font-size="16.5" font-weight="bold" text-anchor="middle">0</text>
<text transform="translate(499.5,1561.9) scale(1.06,1)" font-size="16.5" font-weight="bold" text-anchor="middle">500</text>
<text transform="translate(551.4,1561.9) scale(1.06,1)" font-size="16.5" font-weight="bold" text-anchor="middle">1000</text>
<text transform="translate(328.5,1421.4) scale(1.06,1)" font-size="16.5" font-weight="bold" text-anchor="end">-2</text>
<text transform="translate(328.5,1471.95) scale(1.06,1)" font-size="16.5" font-weight="bold" text-anchor="end">-3</text>
<text transform="translate(328.5,1522.5) scale(1.06,1)" font-size="16.5" font-weight="bold" text-anchor="end">-4</text>
<text transform="translate(561,1389.3) scale(1.06,1)" font-size="16.5" font-weight="bold">-1</text>
<text transform="translate(561,1431) scale(1.06,1)" font-size="16.5" font-weight="bold">-2</text>
<text transform="translate(561,1472.7) scale(1.06,1)" font-size="16.5" font-weight="bold">-3</text>
<text transform="translate(561,1514.4) scale(1.06,1)" font-size="16.5" font-weight="bold">-4</text>
<text transform="translate(402.5,1479.9) scale(1.1,1)" font-size="20" font-weight="bold"><tspan font-style="italic">M</tspan> Down</text>
<rect x="177.8" y="1435.6" width="14.9" height="112.5" fill="#808080"/>
<rect x="127" y="1486.3" width="114.4" height="14.4" fill="#808080"/>
<line x1="127" y1="1493.8" x2="170" y2="1493.8" stroke="#d00000" stroke-width="3.2"/>
<polyline points="158.5,1487.9 171.5,1493.8 158.5,1500" fill="none" stroke="#d00000" stroke-width="3.2"/>
<line x1="185.2" y1="1490.2" x2="185.2" y2="1458" stroke="#ffc000" stroke-width="3.2"/>
<polyline points="178.9,1468.5 185.2,1456.5 191.4,1467.9" fill="none" stroke="#ffc000" stroke-width="3.2"/>
<circle cx="241.4" cy="1438.3" r="22.8" fill="#fff" stroke="#000" stroke-width="2.6"/>
<line x1="190.7" y1="1440.5" x2="218.6" y2="1440.5" stroke="#000" stroke-width="2.6"/>
<polyline points="264.2,1439.6 295.3,1439.6 295.3,1543.5 188.1,1543.5" fill="none" stroke="#000" stroke-width="2.6"/>
<polyline points="244,1495.5 264.1,1495.5 264.1,1510.6" fill="none" stroke="#000" stroke-width="2.8"/>
<line x1="249.2" y1="1510.6" x2="278.8" y2="1510.6" stroke="#000" stroke-width="2.9"/>
<line x1="253.8" y1="1516.2" x2="276.2" y2="1516.2" stroke="#000" stroke-width="2.9"/>
<line x1="257.5" y1="1523.1" x2="272.3" y2="1523.1" stroke="#000" stroke-width="2.9"/>
<text x="227.5" y="1443" font-size="16" font-style="italic" font-family="'Liberation Serif', 'Times New Roman', serif" fill="#222">V</text>
<text x="241.8" y="1448.1" font-size="10.5" font-family="'Liberation Serif', 'Times New Roman', serif">H</text>
<text x="111" y="1494.5" font-size="19" font-style="italic">j</text>
<text x="145.5" y="1467.9" font-size="18.5" font-style="italic">H</text>
<text x="159.2" y="1471.5" font-size="13.5">y</text>
<text x="845.5" y="678" font-size="54" font-weight="bold">e</text>
<line x1="1036.03" y1="778.74" x2="1229.15" y2="750.25" stroke="#22893f" stroke-width="4.9" stroke-linecap="round"/>
<line x1="1034.54" y1="1045.77" x2="1230.64" y2="955.8" stroke="#0a1672" stroke-width="4.9" stroke-linecap="round"/>
<line x1="1265.64" y1="744.17" x2="1401.55" y2="718.91" stroke="#22893f" stroke-width="4.9" stroke-linecap="round"/>
<line x1="1265.01" y1="942.26" x2="1402.18" y2="896.71" stroke="#0a1672" stroke-width="4.9" stroke-linecap="round"/>
<line x1="1437.92" y1="712.09" x2="1516.42" y2="697.21" stroke="#22893f" stroke-width="4.9" stroke-linecap="round"/>
<line x1="1435.39" y1="881.01" x2="1518.95" y2="828.31" stroke="#0a1672" stroke-width="4.9" stroke-linecap="round"/>
<circle cx="1017.73" cy="781.44" r="12.4" fill="#22893f"/>
<circle cx="1247.45" cy="747.55" r="12.4" fill="#22893f"/>
<circle cx="1419.74" cy="715.53" r="12.4" fill="#22893f"/>
<circle cx="1534.6" cy="693.77" r="12.4" fill="#22893f"/>
<rect x="1006.33" y="1042.08" width="22.8" height="22.8" fill="#0a1672"/>
<rect x="1236.05" y="936.68" width="22.8" height="22.8" fill="#0a1672"/>
<rect x="1408.34" y="879.48" width="22.8" height="22.8" fill="#0a1672"/>
<rect x="1523.2" y="807.04" width="22.8" height="22.8" fill="#0a1672"/>
<rect x="960.3" y="649.4" width="630.9" height="465.6" fill="none" stroke="#000" stroke-width="3.7" stroke-linejoin="round"/>
<line x1="960.3" y1="1115" x2="960.3" y2="1104.3" stroke="#000" stroke-width="3.6" stroke-linecap="round"/>
<line x1="1132.59" y1="1115" x2="1132.59" y2="1104.3" stroke="#000" stroke-width="3.6" stroke-linecap="round"/>
<line x1="1304.88" y1="1115" x2="1304.88" y2="1104.3" stroke="#000" stroke-width="3.6" stroke-linecap="round"/>
<line x1="1477.17" y1="1115" x2="1477.17" y2="1104.3" stroke="#000" stroke-width="3.6" stroke-linecap="round"/>
<line x1="1046.44" y1="1115" x2="1046.44" y2="1110.6" stroke="#000" stroke-width="3.6" stroke-linecap="round"/>
<line x1="1218.73" y1="1115" x2="1218.73" y2="1110.6" stroke="#000" stroke-width="3.6" stroke-linecap="round"/>
<line x1="1391.03" y1="1115" x2="1391.03" y2="1110.6" stroke="#000" stroke-width="3.6" stroke-linecap="round"/>
<line x1="1563.32" y1="1115" x2="1563.32" y2="1110.6" stroke="#000" stroke-width="3.6" stroke-linecap="round"/>
<line x1="960.3" y1="1053.48" x2="970.5" y2="1053.48" stroke="#000" stroke-width="3.6" stroke-linecap="round"/>
<line x1="960.3" y1="929.12" x2="970.5" y2="929.12" stroke="#000" stroke-width="3.6" stroke-linecap="round"/>
<line x1="960.3" y1="804.76" x2="970.5" y2="804.76" stroke="#000" stroke-width="3.6" stroke-linecap="round"/>
<line x1="960.3" y1="680.4" x2="970.5" y2="680.4" stroke="#000" stroke-width="3.6" stroke-linecap="round"/>
<line x1="960.3" y1="991.3" x2="964.5" y2="991.3" stroke="#000" stroke-width="3.6" stroke-linecap="round"/>
<line x1="960.3" y1="866.94" x2="964.5" y2="866.94" stroke="#000" stroke-width="3.6" stroke-linecap="round"/>
<line x1="960.3" y1="742.58" x2="964.5" y2="742.58" stroke="#000" stroke-width="3.6" stroke-linecap="round"/>
<text x="960.3" y="1152.2" font-size="29" font-weight="bold" text-anchor="middle">0</text>
<text x="1132.59" y="1152.2" font-size="29" font-weight="bold" text-anchor="middle">30</text>
<text x="1304.88" y="1152.2" font-size="29" font-weight="bold" text-anchor="middle">60</text>
<text x="1477.17" y="1152.2" font-size="29" font-weight="bold" text-anchor="middle">90</text>
<text x="946.5" y="1061.88" font-size="29" font-weight="bold" text-anchor="end">4</text>
<text x="946.5" y="937.52" font-size="29" font-weight="bold" text-anchor="end">8</text>
<text x="946.5" y="813.16" font-size="29" font-weight="bold" text-anchor="end">12</text>
<text x="946.5" y="688.8" font-size="29" font-weight="bold" text-anchor="end">16</text>
<line x1="1352.5" y1="1023.1" x2="1368.5" y2="1023.1" stroke="#22893f" stroke-width="5" stroke-linecap="round"/>
<line x1="1406.1" y1="1023.1" x2="1422.8" y2="1023.1" stroke="#22893f" stroke-width="5" stroke-linecap="round"/>
<circle cx="1387.2" cy="1023.1" r="12.5" fill="#22893f"/>
<line x1="1352.5" y1="1063.1" x2="1368.5" y2="1063.1" stroke="#0a1672" stroke-width="5" stroke-linecap="round"/>
<line x1="1406.1" y1="1063.1" x2="1422.8" y2="1063.1" stroke="#0a1672" stroke-width="5" stroke-linecap="round"/>
<rect x="1375.55" y="1050.85" width="22.7" height="22.7" fill="#0a1672"/>
<text transform="translate(1431,1034.3) scale(1.07,1)" font-size="29" font-weight="bold">BTO</text>
<text transform="translate(1431,1073.6) scale(1.07,1)" font-size="29" font-weight="bold">BTO</text>
<line x1="1507.6" y1="1005" x2="1507.6" y2="1023.7" stroke="#000" stroke-width="2.2"/>
<polygon points="1502.6,1021.7 1512.6,1021.7 1507.6,1037.7" fill="#000"/>
<line x1="1508" y1="1077" x2="1508" y2="1060.8" stroke="#000" stroke-width="2.2"/>
<polygon points="1503,1062.8 1513,1062.8 1508,1046.8" fill="#000"/>
<text transform="translate(881.6,911) rotate(-90)" text-anchor="middle" font-size="31.5" font-weight="bold"><tspan font-style="italic">H</tspan><tspan font-size="18.5" font-weight="normal" dy="12.5">L</tspan><tspan dy="-12.5" font-weight="normal">/</tspan><tspan font-style="italic">J</tspan><tspan font-size="18.5" font-weight="normal" dy="12.5">c</tspan><tspan dy="-12.5"> (Oe/(10</tspan><tspan font-size="18.5" font-weight="normal" dy="-18">7</tspan><tspan dy="18">A/cm</tspan><tspan font-size="18.5" font-weight="normal" dy="-18">2</tspan><tspan dy="18">))</tspan></text>
<text x="1276.5" y="1205" text-anchor="middle" font-size="30.5" font-weight="bold"><tspan font-style="italic">T</tspan> (K)</text>
<text x="850.5" y="1297" font-size="54" font-weight="bold">f</text>
<line x1="1021.4" y1="1381.99" x2="1218.3" y2="1396.16" stroke="#22893f" stroke-width="4.9" stroke-linecap="round"/>
<line x1="1020.16" y1="1645.1" x2="1219.54" y2="1566.41" stroke="#0a1672" stroke-width="4.9" stroke-linecap="round"/>
<line x1="1255.01" y1="1400.45" x2="1393.84" y2="1422.98" stroke="#22893f" stroke-width="4.9" stroke-linecap="round"/>
<line x1="1255.19" y1="1558.07" x2="1393.66" y2="1546.5" stroke="#0a1672" stroke-width="4.9" stroke-linecap="round"/>
<line x1="1430.56" y1="1427.1" x2="1510.54" y2="1432.12" stroke="#22893f" stroke-width="4.9" stroke-linecap="round"/>
<line x1="1427.09" y1="1534.12" x2="1514.01" y2="1471.28" stroke="#0a1672" stroke-width="4.9" stroke-linecap="round"/>
<circle cx="1002.95" cy="1380.67" r="9.6" fill="#fff" stroke="#22893f" stroke-width="6.3"/>
<circle cx="1236.75" cy="1397.48" r="9.6" fill="#fff" stroke="#22893f" stroke-width="6.3"/>
<circle cx="1412.1" cy="1425.94" r="9.6" fill="#fff" stroke="#22893f" stroke-width="6.3"/>
<circle cx="1529" cy="1433.27" r="9.6" fill="#fff" stroke="#22893f" stroke-width="6.3"/>
<rect x="994.05" y="1642.99" width="17.8" height="17.8" fill="#fff" stroke="#0a1672" stroke-width="6"/>
<rect x="1227.85" y="1550.72" width="17.8" height="17.8" fill="#fff" stroke="#0a1672" stroke-width="6"/>
<rect x="1403.2" y="1536.05" width="17.8" height="17.8" fill="#fff" stroke="#0a1672" stroke-width="6"/>
<rect x="1520.1" y="1451.54" width="17.8" height="17.8" fill="#fff" stroke="#0a1672" stroke-width="6"/>
<rect x="944.5" y="1270.7" width="642.9" height="473.9" fill="none" stroke="#000" stroke-width="3.7" stroke-linejoin="round"/>
<line x1="944.5" y1="1744.6" x2="944.5" y2="1733.9" stroke="#000" stroke-width="3.6" stroke-linecap="round"/>
<line x1="1119.85" y1="1744.6" x2="1119.85" y2="1733.9" stroke="#000" stroke-width="3.6" stroke-linecap="round"/>
<line x1="1295.2" y1="1744.6" x2="1295.2" y2="1733.9" stroke="#000" stroke-width="3.6" stroke-linecap="round"/>
<line x1="1470.55" y1="1744.6" x2="1470.55" y2="1733.9" stroke="#000" stroke-width="3.6" stroke-linecap="round"/>
<line x1="1032.17" y1="1744.6" x2="1032.17" y2="1740.2" stroke="#000" stroke-width="3.6" stroke-linecap="round"/>
<line x1="1207.53" y1="1744.6" x2="1207.53" y2="1740.2" stroke="#000" stroke-width="3.6" stroke-linecap="round"/>
<line x1="1382.88" y1="1744.6" x2="1382.88" y2="1740.2" stroke="#000" stroke-width="3.6" stroke-linecap="round"/>
<line x1="1558.22" y1="1744.6" x2="1558.22" y2="1740.2" stroke="#000" stroke-width="3.6" stroke-linecap="round"/>
<line x1="944.5" y1="1744.6" x2="954.7" y2="1744.6" stroke="#000" stroke-width="3.6" stroke-linecap="round"/>
<line x1="944.5" y1="1615.24" x2="954.7" y2="1615.24" stroke="#000" stroke-width="3.6" stroke-linecap="round"/>
<line x1="944.5" y1="1485.88" x2="954.7" y2="1485.88" stroke="#000" stroke-width="3.6" stroke-linecap="round"/>
<line x1="944.5" y1="1356.52" x2="954.7" y2="1356.52" stroke="#000" stroke-width="3.6" stroke-linecap="round"/>
<line x1="944.5" y1="1679.92" x2="948.7" y2="1679.92" stroke="#000" stroke-width="3.6" stroke-linecap="round"/>
<line x1="944.5" y1="1550.56" x2="948.7" y2="1550.56" stroke="#000" stroke-width="3.6" stroke-linecap="round"/>
<line x1="944.5" y1="1421.2" x2="948.7" y2="1421.2" stroke="#000" stroke-width="3.6" stroke-linecap="round"/>
<line x1="944.5" y1="1291.84" x2="948.7" y2="1291.84" stroke="#000" stroke-width="3.6" stroke-linecap="round"/>
<text x="944.5" y="1782.3" font-size="29" font-weight="bold" text-anchor="middle">0</text>
<text x="1119.85" y="1782.3" font-size="29" font-weight="bold" text-anchor="middle">30</text>
<text x="1295.2" y="1782.3" font-size="29" font-weight="bold" text-anchor="middle">60</text>
<text x="1470.55" y="1782.3" font-size="29" font-weight="bold" text-anchor="middle">90</text>
<text x="929.5" y="1753.2" font-size="29" font-weight="bold" text-anchor="end">0</text>
<text x="929.5" y="1623.84" font-size="29" font-weight="bold" text-anchor="end">3</text>
<text x="929.5" y="1494.48" font-size="29" font-weight="bold" text-anchor="end">6</text>
<text x="929.5" y="1365.12" font-size="29" font-weight="bold" text-anchor="end">9</text>
<line x1="1346.2" y1="1661.9" x2="1362.6" y2="1661.9" stroke="#22893f" stroke-width="5" stroke-linecap="round"/>
<line x1="1400.1" y1="1661.9" x2="1416.5" y2="1661.9" stroke="#22893f" stroke-width="5" stroke-linecap="round"/>
<circle cx="1380.9" cy="1661.9" r="9.7" fill="#fff" stroke="#22893f" stroke-width="6"/>
<line x1="1346.2" y1="1701.9" x2="1362.6" y2="1701.9" stroke="#0a1672" stroke-width="5" stroke-linecap="round"/>
<line x1="1400.1" y1="1701.9" x2="1416.5" y2="1701.9" stroke="#0a1672" stroke-width="5" stroke-linecap="round"/>
<rect x="1372.2" y="1692" width="17.8" height="17.8" fill="#fff" stroke="#0a1672" stroke-width="6"/>
<text transform="translate(1425.8,1672.5) scale(1.09,1)" font-size="29" font-weight="bold">BTO</text>
<text transform="translate(1425.8,1711.6) scale(1.09,1)" font-size="29" font-weight="bold">BTO</text>
<line x1="1500.9" y1="1645.6" x2="1500.9" y2="1664.1" stroke="#000" stroke-width="2.2"/>
<polygon points="1495.9,1662.1 1505.9,1662.1 1500.9,1678.1" fill="#000"/>
<line x1="1501.4" y1="1718.1" x2="1501.4" y2="1702.3" stroke="#000" stroke-width="2.2"/>
<polygon points="1496.4,1704.3 1506.4,1704.3 1501.4,1688.3" fill="#000"/>
<text transform="translate(881.8,1540) rotate(-90)" text-anchor="middle" font-size="32.3" font-weight="bold"><tspan font-style="italic">H</tspan><tspan font-size="18.5" font-weight="normal" dy="12.5">T</tspan><tspan dy="-12.5" font-weight="normal">/</tspan><tspan font-style="italic">J</tspan><tspan font-size="18.5" font-weight="normal" dy="12.5">c</tspan><tspan dy="-12.5"> (Oe/(10</tspan><tspan font-size="18.5" font-weight="normal" dy="-18">7</tspan><tspan dy="18">A/cm</tspan><tspan font-size="18.5" font-weight="normal" dy="-18">2</tspan><tspan dy="18">))</tspan></text>
<text x="1267" y="1836.2" text-anchor="middle" font-size="31" font-weight="bold"><tspan font-style="italic">T</tspan> (K)</text>
</svg>
</body></html>
